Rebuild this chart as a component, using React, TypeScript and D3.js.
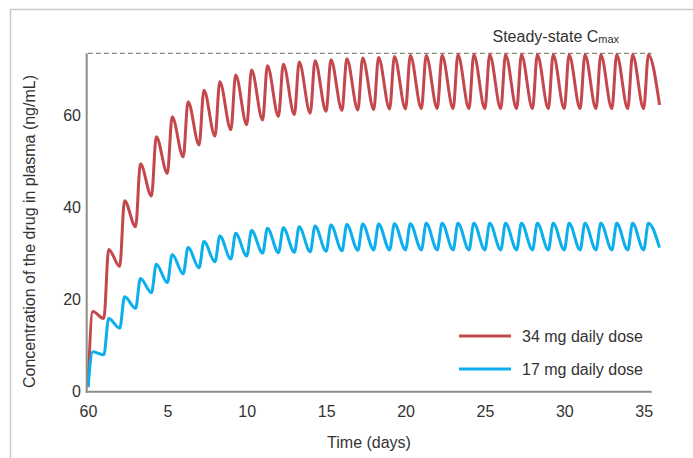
import React, { useEffect, useRef } from "react";
import * as d3 from "d3";

// days after first dose at which each daily peak is reached
const PEAK_OFFSET = 0.3;

const xTicks = [0, 5, 10, 15, 20, 25, 30, 35];
const xTickLabels = ["60", "5", "10", "15", "20", "25", "30", "35"];
const yTicks = [0, 20, 40, 60];
const steadyStateCmax = 73.5;

// 34 mg daily dose: peak after each dose (days 0..35), trough at each dose time (days 0..36)
const peaks34 = [
  17.4, 30.9, 41.5, 49.5, 55.4, 59.7, 63.0, 65.5, 67.3, 68.8, 69.9, 70.8,
  71.1, 71.6, 71.9, 72.1, 72.3, 72.5, 72.6, 72.8, 73.0, 73.0, 73.1, 73.2,
  73.2, 73.2, 73.2, 73.2, 73.2, 73.2, 73.2, 73.2, 73.2, 73.2, 73.2, 73.2,
];
const troughs34 = [
  1.0, 15.9, 27.2, 35.8, 42.5, 47.4, 51.0, 53.6, 55.5, 56.9, 58.0, 59.0,
  59.8, 60.2, 60.5, 60.9, 61.1, 61.2, 61.3, 61.4, 61.4, 61.5, 61.5, 61.5,
  61.5, 61.5, 61.5, 61.5, 61.5, 61.5, 61.5, 61.5, 61.5, 61.5, 61.5, 61.5,
  62.3,
];

// 17 mg daily dose
const peaks17 = [
  8.7, 15.9, 20.6, 24.6, 27.7, 29.8, 31.3, 32.6, 33.8, 34.4, 35.0, 35.5,
  35.6, 35.8, 36.0, 36.2, 36.3, 36.4, 36.4, 36.5, 36.5, 36.6, 36.6, 36.6,
  36.6, 36.6, 36.6, 36.6, 36.6, 36.6, 36.6, 36.6, 36.6, 36.6, 36.6, 36.6,
];
const troughs17 = [
  1.0, 8.0, 13.8, 18.1, 21.5, 23.7, 25.6, 26.9, 28.2, 28.8, 29.5, 30.1,
  30.2, 30.3, 30.4, 30.5, 30.6, 30.7, 30.8, 30.8, 30.8, 30.8, 30.8, 30.8,
  30.8, 30.8, 30.8, 30.8, 30.8, 30.8, 30.8, 30.8, 30.8, 30.8, 30.8, 30.8,
  31.3,
];

const seriesNames = ["34 mg daily dose", "17 mg daily dose"];
const colors = ["#c4474c", "#0aafec"];

function buildPoints(troughs: number[], peaks: number[]) {
  const pts: [number, number][] = [];
  troughs.forEach((v, i) => {
    pts.push([i, v]);
    if (i < peaks.length) pts.push([i + PEAK_OFFSET, peaks[i]]);
  });
  return pts;
}

export default function App() {
  const svgRef = useRef<SVGSVGElement>(null);
  const width = 693;
  const height = 458;
  const font = "'Liberation Sans', Arial, sans-serif";
  const textColor = "#333";
  const axisColor = "#8d8d85";

  useEffect(() => {
    const svg = d3.select(svgRef.current);
    svg.selectAll("*").remove();

    const x = d3.scaleLinear().domain([0, 35.5]).range([88, 651.6]);
    const y = d3.scaleLinear().domain([0, steadyStateCmax]).range([391.7, 53.3]);

    // outer frame (runs off the picture to the right and bottom)
    svg
      .append("rect")
      .attr("x", 10.5)
      .attr("y", 9.5)
      .attr("width", 720)
      .attr("height", 480)
      .attr("fill", "none")
      .attr("stroke", "#cbcbc3")
      .attr("stroke-width", 1.5);

    // steady-state Cmax
    svg
      .append("line")
      .attr("x1", x(0))
      .attr("x2", x(35.5))
      .attr("y1", y(steadyStateCmax))
      .attr("y2", y(steadyStateCmax))
      .attr("stroke", "#8a8a84")
      .attr("stroke-width", 1.3)
      .attr("stroke-dasharray", "5,3");

    const cmax = svg
      .append("text")
      .attr("x", 492.5)
      .attr("y", 41.5)
      .attr("font-family", font)
      .attr("font-size", 16)
      .attr("fill", textColor);
    cmax.append("tspan").text("Steady-state C");
    cmax.append("tspan").attr("font-size", 11).attr("dy", 1.5).text("max");

    // series
    const line = d3
      .line<[number, number]>()
      .x((d) => x(d[0]))
      .y((d) => y(d[1]))
      .curve(d3.curveMonotoneX);

    const series = [buildPoints(troughs34, peaks34), buildPoints(troughs17, peaks17)];
    series.forEach((pts, i) => {
      svg
        .append("path")
        .attr("d", line(pts))
        .attr("fill", "none")
        .attr("stroke", colors[i])
        .attr("stroke-width", 3)
        .attr("stroke-linejoin", "round");
    });

    // axes
    const xAxis = svg
      .append("g")
      .attr("transform", "translate(0,391.7)")
      .call(
        d3
          .axisBottom(x)
          .tickValues(xTicks)
          .tickSize(0)
          .tickPadding(14)
          .tickFormat((d, i) => xTickLabels[i])
      );
    const yAxis = svg
      .append("g")
      .attr("transform", "translate(87,0)")
      .call(d3.axisLeft(y).tickValues(yTicks).tickSize(0).tickPadding(6));

    [xAxis, yAxis].forEach((g) => {
      g.select(".domain").remove();
      g.selectAll("text")
        .attr("font-family", font)
        .attr("font-size", 16)
        .attr("fill", textColor);
    });

    svg
      .append("line")
      .attr("x1", 86.7)
      .attr("x2", 86.7)
      .attr("y1", y(steadyStateCmax))
      .attr("y2", 392.7)
      .attr("stroke", axisColor)
      .attr("stroke-width", 2);
    svg
      .append("line")
      .attr("x1", 85.7)
      .attr("x2", 651.7)
      .attr("y1", 391.7)
      .attr("y2", 391.7)
      .attr("stroke", axisColor)
      .attr("stroke-width", 2);

    // axis titles
    svg
      .append("text")
      .attr("transform", "translate(29,231.5) rotate(-90)")
      .attr("text-anchor", "middle")
      .attr("dy", "0.35em")
      .attr("font-family", font)
      .attr("font-size", 16)
      .attr("fill", textColor)
      .text("Concentration of the drug in plasma (ng/mL)");

    svg
      .append("text")
      .attr("x", 369)
      .attr("y", 448)
      .attr("text-anchor", "middle")
      .attr("font-family", font)
      .attr("font-size", 16)
      .attr("fill", textColor)
      .text("Time (days)");

    // legend
    seriesNames.forEach((name, i) => {
      const ly = 336 + i * 33;
      svg
        .append("line")
        .attr("x1", 459)
        .attr("x2", 511)
        .attr("y1", ly)
        .attr("y2", ly)
        .attr("stroke", colors[i])
        .attr("stroke-width", 3);
      svg
        .append("text")
        .attr("x", 522)
        .attr("y", ly)
        .attr("dy", "0.35em")
        .attr("font-family", font)
        .attr("font-size", 16)
        .attr("fill", textColor)
        .text(name);
    });
  }, []);

  return (
    <svg
      ref={svgRef}
      width={width}
      height={height}
      style={{ position: "absolute", left: 0, top: 0, background: "#fff" }}
    ></svg>
  );
}
